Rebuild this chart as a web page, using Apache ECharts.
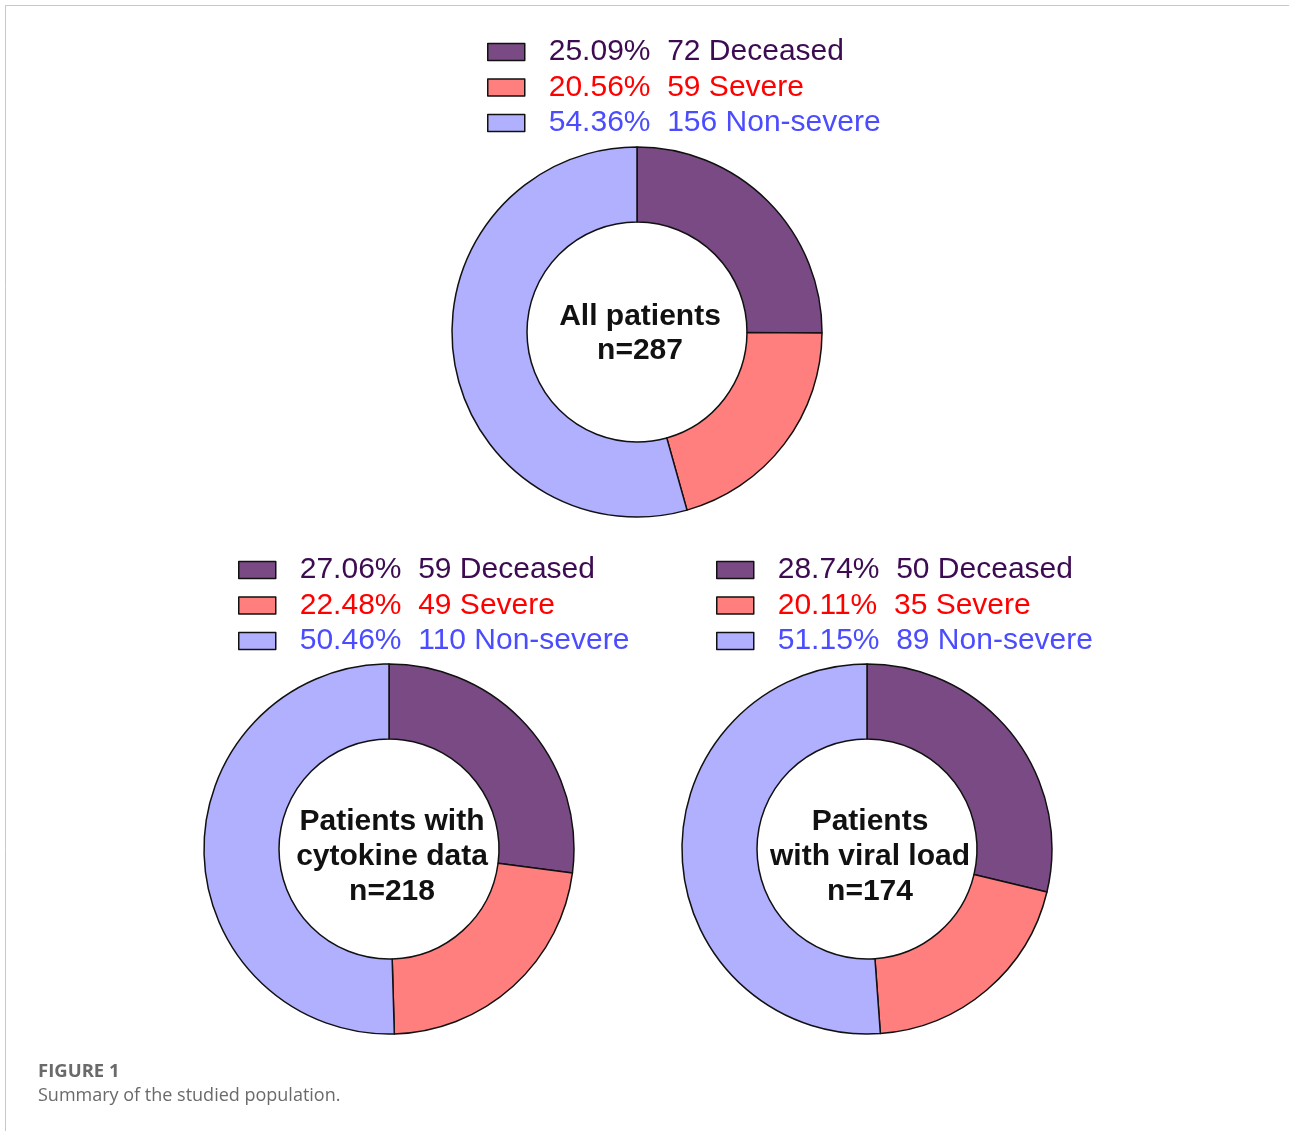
<!DOCTYPE html>
<html>
<head>
<meta charset="utf-8">
<script src="https://cdn.jsdelivr.net/npm/echarts@6/dist/echarts.min.js"></script>
<style>
  html, body { margin: 0; padding: 0; background: #fff; }
  #chart { width: 1289px; height: 1131px; }
</style>
</head>
<body>
<div id="chart"></div>
<script>
// Outcome groups, in drawing order (clockwise from 12 o'clock)
const groups = ['Deceased', 'Severe', 'Non-severe'];

// Patient counts per outcome for each cohort
const allPatients = [72, 59, 156];
const cytokinePatients = [59, 49, 110];
const viralLoadPatients = [50, 35, 89];

// Centre captions of the three rings
const centreLabels = [
  'All patients\nn=287',
  'Patients with\ncytokine data\nn=218',
  'Patients\nwith viral load\nn=174'
];

const fillColors = ['#7A4A84', '#FF7F7F', '#B0B0FF'];
const textColors = ['#3D0B52', '#FF0000', '#4B4BFF'];

const SANS = 'Liberation Sans';
const CAPTION_FONT = 'Open Sans';

const cohorts = [
  { values: allPatients,       center: [637, 332], legendPos: [487, 37],  lineH: 34, labelTop: 300 },
  { values: cytokinePatients,  center: [389, 849], legendPos: [238, 555], lineH: 35, labelTop: 804 },
  { values: viralLoadPatients, center: [867, 849], legendPos: [716, 555], lineH: 35, labelTop: 804 }
];

const series = [];
const legends = [];
const titles = [];

cohorts.forEach((c, idx) => {
  const total = c.values.reduce((a, b) => a + b, 0);
  series.push({
    type: 'pie',
    name: 'cohort' + idx,
    center: c.center,
    radius: [110, 185],
    startAngle: 90,
    clockwise: true,
    silent: true,
    avoidLabelOverlap: false,
    label: { show: false },
    labelLine: { show: false },
    emphasis: { disabled: true },
    itemStyle: { borderColor: '#111', borderWidth: 1.5 },
    data: groups.map((g, i) => ({
      name: g,
      value: c.values[i],
      itemStyle: { color: fillColors[i] }
    }))
  });

  legends.push({
    orient: 'vertical',
    left: c.legendPos[0],
    top: c.legendPos[1],
    padding: 0,
    itemGap: 5.5,
    itemWidth: 37,
    itemHeight: 17,
    icon: 'rect',
    selectedMode: false,
    itemStyle: { borderColor: '#111', borderWidth: 1.5 },
    textStyle: {
      fontFamily: SANS,
      fontSize: 30,
      lineHeight: 30,
      padding: [0, 0, 0, 19]
    },
    data: groups.map((g, i) => ({
      name: g,
      textStyle: { color: textColors[i], fontFamily: SANS, fontSize: 30 }
    })),
    formatter: (name) => {
      const i = groups.indexOf(name);
      const v = c.values[i];
      return (v / total * 100).toFixed(2) + '%  ' + v + ' ' + name;
    }
  });

  titles.push({
    text: centreLabels[idx],
    left: c.center[0] + 3,
    top: c.labelTop,
    textAlign: 'center',
    padding: 0,
    textStyle: {
      fontFamily: SANS,
      fontSize: 30,
      fontWeight: 'bold',
      color: '#111',
      lineHeight: c.lineH
    }
  });
});

// Figure caption
titles.push({
  text: 'FIGURE 1',
  left: 38,
  top: 1062,
  padding: 0,
  textStyle: { fontFamily: CAPTION_FONT, fontSize: 18.5, fontWeight: 'bold', color: '#6a6a6a' }
});
titles.push({
  text: 'Summary of the studied population.',
  left: 38,
  top: 1087,
  padding: 0,
  textStyle: { fontFamily: CAPTION_FONT, fontSize: 18, fontWeight: 'normal', color: '#6a6a6a' }
});

const chart = echarts.init(document.getElementById('chart'), null, { renderer: 'canvas' });
chart.setOption({
  backgroundColor: '#ffffff',
  animation: false,
  title: titles,
  legend: legends,
  series: series,
  graphic: [
    { type: 'line', shape: { x1: 5, y1: 5.5, x2: 1289, y2: 5.5 }, style: { stroke: '#c8c8c8', lineWidth: 1 } },
    { type: 'line', shape: { x1: 5.5, y1: 5, x2: 5.5, y2: 1131 }, style: { stroke: '#c8c8c8', lineWidth: 1 } }
  ]
});
</script>
</body>
</html>
